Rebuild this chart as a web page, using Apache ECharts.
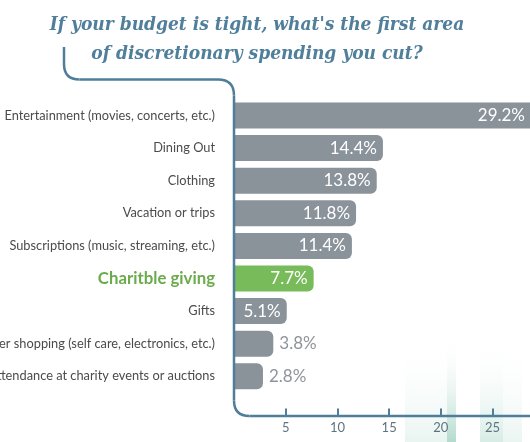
<!DOCTYPE html>
<html>
<head>
<meta charset="utf-8">
<script src="https://cdn.jsdelivr.net/npm/echarts@6/dist/echarts.min.js"></script>
<style>html,body{margin:0;padding:0;background:#fff}#c{width:530px;height:442px}</style>
</head>
<body>
<div id="c"></div>
<script>
const categories = [
  'Entertainment (movies, concerts, etc.)',
  'Dining Out',
  'Clothing',
  'Vacation or trips',
  'Subscriptions (music, streaming, etc.)',
  'Charitble giving',
  'Gifts',
  'Other shopping (self care, electronics, etc.)',
  'Attendance at charity events or auctions'
];
const values = [29.2, 14.4, 13.8, 11.8, 11.4, 7.7, 5.1, 3.8, 2.8];
const highlight = 'Charitble giving';
const tickValues = [5, 10, 15, 20, 25];
const titleText = "If your budget is tight, what's the first area\nof discretionary spending you cut?";

const GRAY = '#8a929a', GREEN = '#77bb5b', AXIS = '#4e7e99';

const data = values.map((v, i) => ({
  value: v,
  itemStyle: { color: categories[i] === highlight ? GREEN : GRAY },
  label: v >= 5
    ? { position: 'insideRight', color: '#fff', distance: i === 0 ? 11 : 6 }
    : { position: 'right', color: '#8e949a', distance: 6 }
}));

function fade(x, w, y, color) {
  return {
    type: 'rect', z: -10, silent: true,
    shape: { x: x, y: y, width: w, height: 442 - y },
    style: { fill: new echarts.graphic.LinearGradient(0, 0, 0, 1, [
      { offset: 0, color: 'rgba(255,255,255,0)' },
      { offset: 1, color: color }
    ]) }
  };
}
const lineStyle = { stroke: AXIS, lineWidth: 2.5, fill: null };
function seg(x1, y1, x2, y2) {
  return { type: 'line', z: 10, silent: true, shape: { x1, y1, x2, y2 }, style: lineStyle };
}
function curve(x1, y1, cx, cy, x2, y2) {
  return { type: 'bezierCurve', z: 10, silent: true,
    shape: { x1, y1, x2, y2, cpx1: cx, cpy1: cy }, style: lineStyle };
}

const chart = echarts.init(document.getElementById('c'));
chart.setOption({
  animation: false,
  backgroundColor: '#fff',
  title: {
    text: titleText,
    left: 252, top: 6, textAlign: 'center',
    textStyle: { fontFamily: 'DejaVu Serif Condensed', fontStyle: 'italic', fontWeight: 'bold',
      fontSize: 19, lineHeight: 29, color: '#4f7f9b' }
  },
  grid: { left: 234, top: 99.2, height: 293.4, width: 302, containLabel: false, outerBoundsMode: 'none' },
  xAxis: {
    type: 'value', min: 0, max: 29.2, interval: 5, offset: 23,
    axisLine: { show: false },
    axisTick: { show: true, inside: true, length: 7, customValues: tickValues,
      lineStyle: { color: AXIS, width: 2 } },
    axisLabel: { customValues: tickValues, color: '#5f7480', fontFamily: 'Lato', fontSize: 13, margin: 6 },
    splitLine: { show: false }
  },
  yAxis: {
    type: 'category', data: categories, inverse: true,
    axisLine: { show: false }, axisTick: { show: false },
    axisLabel: {
      margin: 19, color: '#4b4b4b', fontFamily: 'Lato', fontSize: 12.8,
      formatter: v => v === highlight ? '{g|' + v + '}' : v,
      rich: { g: { color: '#6aab4c', fontFamily: 'Lato', fontWeight: 'bold', fontSize: 16.8 } }
    }
  },
  series: [{
    type: 'bar', data: data, barWidth: 26,
    itemStyle: { borderRadius: [0, 6, 6, 0] },
    label: { show: true, formatter: p => p.value + '%', fontFamily: 'Lato', fontSize: 17 }
  }],
  graphic: [
    fade(405, 42, 340, 'rgba(214,236,228,0.55)'),
    fade(447, 9, 335, 'rgba(170,214,200,0.9)'),
    fade(480, 23, 340, 'rgba(205,232,222,0.8)'),
    fade(503, 19, 340, 'rgba(225,241,235,0.7)'),
    seg(64, 47, 64, 64),
    curve(64, 64, 64, 79.5, 79.5, 79.5),
    seg(79.5, 79.5, 218, 79.5),
    curve(218, 79.5, 234, 79.5, 234, 95.5),
    seg(234, 95.5, 234, 400.5),
    curve(234, 400.5, 234, 416, 249.5, 416),
    seg(249.5, 416, 532, 416)
  ]
});
</script>
</body>
</html>
